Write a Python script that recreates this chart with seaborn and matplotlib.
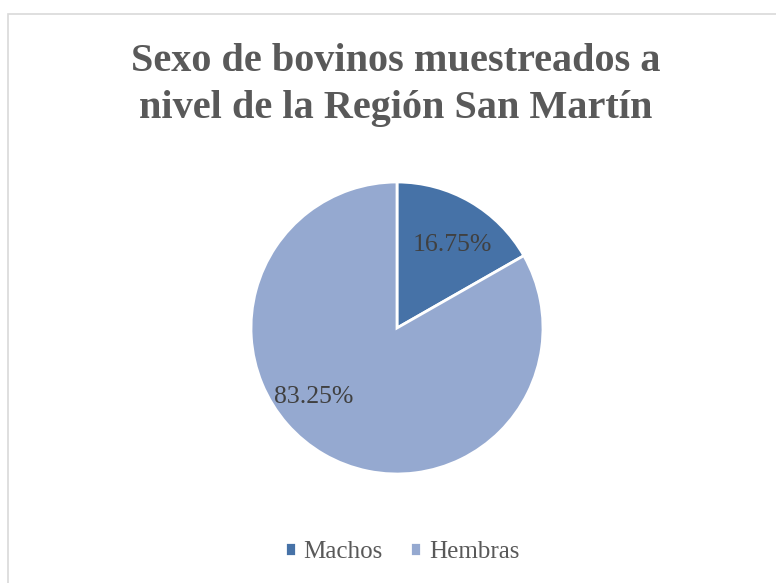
import matplotlib
matplotlib.use("Agg")
import matplotlib.pyplot as plt
import seaborn as sns
from matplotlib.patches import Rectangle

# Datos
categorias = ["Machos", "Hembras"]
porcentajes = [16.75, 83.25]
colores = ["#4672A7", "#95A9D0"]
titulo = "Sexo de bovinos muestreados a\nnivel de la Región San Martín"

sns.set_theme(style="white")
plt.rcParams["font.family"] = ["Liberation Serif", "DejaVu Serif"]

fig = plt.figure(figsize=(7.76, 5.83), dpi=100)

# Marco gris del gráfico
fig.add_artist(Rectangle((8 / 776, -0.05), 1.1, (583 - 14) / 583 + 0.05,
                         transform=fig.transFigure, fill=False,
                         edgecolor="#D9D9D9", linewidth=1.2))

fig.text(396 / 776, 1 - 85 / 583, titulo, ha="center", va="center",
         fontsize=29, fontweight="bold", color="#595959", linespacing=1.33)

ax = fig.add_axes([251 / 776, 109 / 583, 292 / 776, 292 / 583])
wedges, textos, autotextos = ax.pie(
    porcentajes, colors=colores, startangle=90, counterclock=False,
    autopct="%.2f%%", pctdistance=0.7,
    wedgeprops={"edgecolor": "white", "linewidth": 2},
    textprops={"fontsize": 18.5, "color": "#404040"})
# posición de etiquetas al estilo Excel (best fit)
autotextos[0].set_position((0.38, 0.57))
autotextos[1].set_position((-0.57, -0.47))
ax.set_xlim(-1, 1)
ax.set_ylim(-1, 1)
ax.set_aspect("equal")

leg = fig.legend(wedges, categorias, loc="center", bbox_to_anchor=(402 / 776, 1 - 552 / 583),
                 ncol=2, frameon=False, fontsize=18, handlelength=0.45, handleheight=0.45,
                 handletextpad=0.3, columnspacing=1.1, labelcolor="#595959")

fig.savefig("out.png", dpi=100, facecolor="white")
